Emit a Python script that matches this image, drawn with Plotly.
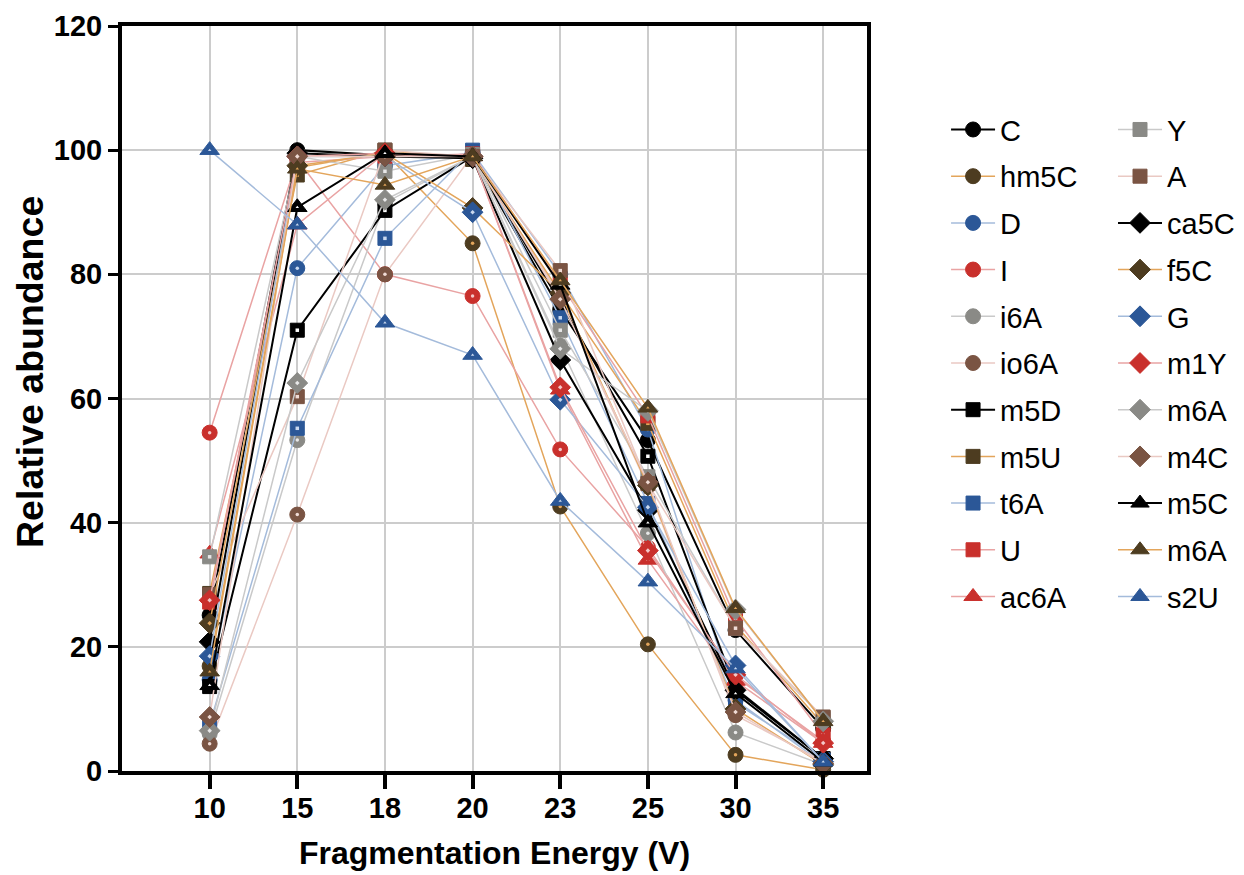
import plotly.graph_objects as go

# Fragmentation energies (categorical x axis)
energies = ["10", "15", "18", "20", "23", "25", "30", "35"]

# Relative abundance (%) per nucleoside at each energy
C = [25.1, 100.0, 99.2, 98.8, 74.3, 53.3, 22.7, 6.9]
hm5C = [16.9, 97.2, 99.6, 85.0, 42.6, 20.4, 2.6, 0.2]
D = [14.7, 81.0, 97.5, 99.6, 80.0, 55.0, 11.4, 1.2]
I = [54.5, 98.5, 80.0, 76.5, 51.8, 36.0, 15.2, 4.8]
i6A = [6.0, 53.3, 91.5, 99.0, 68.5, 38.3, 6.2, 1.0]
io6A = [4.4, 41.3, 80.0, 99.2, 76.4, 45.8, 9.0, 1.5]
m5D = [13.6, 71.0, 90.3, 99.0, 75.5, 50.7, 13.3, 2.0]
m5U = [28.6, 96.0, 100.0, 98.5, 77.0, 56.0, 23.5, 7.5]
t6A = [7.5, 55.2, 85.8, 100.0, 73.0, 43.1, 11.0, 1.8]
U = [27.2, 98.0, 99.0, 99.4, 78.5, 57.2, 24.6, 5.8]
ac6A = [35.0, 88.0, 99.5, 99.0, 61.4, 34.0, 14.5, 4.5]
Y = [34.5, 99.0, 96.6, 99.3, 71.0, 47.4, 23.0, 8.5]
A = [28.4, 60.3, 100.0, 99.0, 80.6, 46.3, 23.0, 8.7]
ca5C = [20.8, 99.5, 99.0, 98.7, 66.2, 42.0, 13.0, 2.0]
f5C = [23.8, 97.5, 99.5, 90.7, 77.0, 46.0, 10.0, 1.0]
G = [18.5, 99.0, 99.0, 90.0, 59.8, 42.5, 17.0, 1.5]
m1Y = [27.5, 99.0, 99.5, 99.0, 61.8, 35.5, 15.5, 4.5]
m6A_d = [6.5, 62.5, 92.0, 99.0, 68.0, 58.0, 26.0, 8.0]
m4C = [8.7, 99.0, 99.0, 99.0, 76.0, 46.5, 9.5, 1.2]
m5C = [13.8, 90.8, 99.5, 99.0, 78.3, 40.0, 12.5, 1.5]
m6A_t = [16.0, 97.0, 94.4, 99.0, 79.0, 58.5, 26.2, 8.0]
s2U = [100.0, 88.0, 72.2, 67.0, 43.5, 30.5, 16.5, 1.5]

# colour families: (marker fill, line, centre dot)
BLACK = ("#000000", "#000000", "#ffffff")
ORANGE = ("#4d3c20", "#e3a55b", "#e3a55b")
BLUE = ("#2b5797", "#a4bbdb", "#c9d8ee")
RED = ("#c9302c", "#e9a3a3", "#f3c8c8")
GRAY = ("#8a8a86", "#c9c9c9", "#e8e8e8")
PINK = ("#7a5443", "#eac9c3", "#f0dcd6")

# name, values, symbol, colours, centre dot shown
col1 = [
    ("C", C, "circle", BLACK, False),
    ("hm5C", hm5C, "circle", ORANGE, True),
    ("D", D, "circle", BLUE, True),
    ("I", I, "circle", RED, True),
    ("i6A", i6A, "circle", GRAY, True),
    ("io6A", io6A, "circle", PINK, True),
    ("m5D", m5D, "square", BLACK, True),
    ("m5U", m5U, "square", ORANGE, True),
    ("t6A", t6A, "square", BLUE, True),
    ("U", U, "square", RED, True),
    ("ac6A", ac6A, "triangle-up", RED, True),
]
col2 = [
    ("Y", Y, "square", GRAY, True),
    ("A", A, "square", PINK, True),
    ("ca5C", ca5C, "diamond", BLACK, False),
    ("f5C", f5C, "diamond", ORANGE, True),
    ("G", G, "diamond", BLUE, True),
    ("m1Y", m1Y, "diamond", RED, True),
    ("m6A", m6A_d, "diamond", GRAY, True),
    ("m4C", m4C, "diamond", PINK, True),
    ("m5C", m5C, "triangle-up", BLACK, True),
    ("m6A", m6A_t, "triangle-up", ORANGE, True),
    ("s2U", s2U, "triangle-up", BLUE, True),
]

SIZES = {"circle": 15, "square": 14, "diamond": 16, "triangle-up": 17}
DOTS = {"circle": 3.5, "square": 3.5, "diamond": 3.5, "triangle-up": 3}

fig = go.Figure()


def add_series(idx, name, vals, sym, cols, dot, legend):
    fill, line, center = cols
    lw = 2 if fill == "#000000" else 1.5
    grp = f"g{idx}"
    fig.add_trace(go.Scatter(
        x=energies, y=vals, name=name, mode="lines+markers",
        legend=legend, legendgroup=grp, cliponaxis=False,
        line=dict(color=line, width=lw),
        marker=dict(symbol=sym, size=SIZES[sym], color=fill,
                    line=dict(color=fill, width=1)),
    ))
    if dot:
        fig.add_trace(go.Scatter(
            x=energies, y=vals, mode="markers", showlegend=False,
            legendgroup=grp, legend=legend, cliponaxis=False, hoverinfo="skip",
            marker=dict(symbol=sym, size=DOTS[sym], color=center),
        ))


n = 0
for name, vals, sym, cols, dot in col1:
    add_series(n, name, vals, sym, cols, dot, "legend")
    n += 1
for name, vals, sym, cols, dot in col2:
    add_series(n, name, vals, sym, cols, dot, "legend2")
    n += 1

FONT = "Arial, Liberation Sans, sans-serif"
tick_font = dict(family=FONT, size=29, color="black", weight="bold")
legend_font = dict(family=FONT, size=29, color="black")

legend_common = dict(xref="container", yref="container", y=0.881,
                     xanchor="left", yanchor="top", font=legend_font,
                     tracegroupgap=6, itemwidth=44, maxheight=820,
                     bgcolor="rgba(0,0,0,0)")

fig.update_layout(
    width=1244, height=875,
    margin=dict(l=122, r=377, t=26, b=104, autoexpand=False),
    plot_bgcolor="white", paper_bgcolor="white",
    showlegend=True,
    legend=dict(x=0.7605, **legend_common),
    legend2=dict(x=0.8947, **legend_common),
    xaxis=dict(
        type="category", categoryorder="array", categoryarray=energies,
        range=[-1, 7.5], showgrid=True, gridcolor="#cccccc", gridwidth=2,
        showline=True, linecolor="black", linewidth=4, mirror=True,
        ticks="outside", ticklen=14, tickwidth=4, tickcolor="black",
        tickfont=tick_font, ticklabelstandoff=-6, automargin=False,
        title=dict(text="Fragmentation Energy (V)",
                   font=dict(family=FONT, size=32, color="black", weight="bold"),
                   standoff=20),
    ),
    yaxis=dict(
        range=[0, 120], dtick=20, showgrid=True, gridcolor="#cccccc", gridwidth=2,
        zeroline=False, showline=True, linecolor="black", linewidth=4, mirror=True,
        ticks="outside", ticklen=10, tickwidth=3, tickcolor="black",
        tickfont=tick_font, automargin=False,
    ),
    annotations=[dict(
        text="Relative abundance", textangle=-90, showarrow=False,
        xref="paper", yref="paper", x=-0.1235, y=0.5356,
        xanchor="center", yanchor="middle",
        font=dict(family=FONT, size=37.5, color="black", weight="bold"),
    )],
)

fig.write_html("out.html")
